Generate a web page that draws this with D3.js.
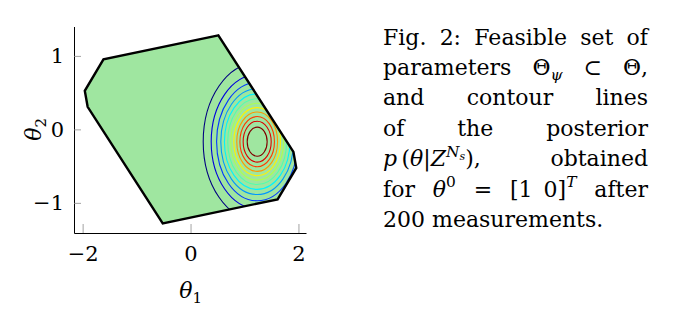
<!DOCTYPE html>
<html>
<head>
<meta charset="utf-8">
<script src="https://cdn.jsdelivr.net/npm/d3@7"></script>
<style>
    body { margin: 0; background: #fff; }
    svg { display: block; }
</style>
</head>
<body>
<svg id="fig" width="674" height="321"></svg>
<script>
// feasible set Theta_psi, polygon vertices (theta1, theta2)
const polyTheta1 = [0.515, -1.614, -1.96, -1.907, -0.515, 1.614, 1.96, 1.907];
const polyTheta2 = [1.28, 0.952, 0.525, 0.307, -1.28, -0.952, -0.525, -0.307];

// posterior contour lines, outermost first (ellipse half-axes in theta units)
const postCenter = [1.235, -0.167];
const contourRx = [1.0, 0.852, 0.752, 0.674, 0.607, 0.546, 0.489, 0.433, 0.378, 0.32, 0.26, 0.185];
const contourRy = [1.07, 0.91, 0.805, 0.72, 0.65, 0.584, 0.523, 0.463, 0.404, 0.342, 0.278, 0.198];
const contourColors = ["#000080", "#0000dc", "#003aff", "#0097ff", "#00f3ff", "#51ffad",
                       "#adff51", "#fff300", "#ff9700", "#ff3a00", "#dc0000", "#800000"];

const xTicks = [-2, 0, 2];
const yTicks = [-1, 0, 1];

// caption: lines -> words -> [text, kind]
const caption = [
    [[["Fig.", ""]], [["2:", ""]], [["Feasible", ""]], [["set", ""]], [["of", ""]]],
    [[["parameters", ""]], [["Θ", ""], ["ψ", "isub"]], [["⊂", ""]], [["Θ,", ""]]],
    [[["and", ""]], [["contour", ""]], [["lines", ""]]],
    [[["of", ""]], [["the", ""]], [["posterior", ""]]],
    [[["p", "i"], ["\u2009(", ""], ["θ", "i"], ["|", ""], ["Z", "i"], ["N", "isup"], ["s", "isupsub"], ["),", ""]],
     [["obtained", ""]]],
    [[["for", ""]], [["θ", "i"], ["0", "sup"]], [["=", ""]], [["[1\u20020]", ""], ["T", "isup"]], [["after", ""]]],
    [[["200", ""]], [["measurements.", ""]]]
];

const serif = '"DejaVu Serif", "Liberation Serif", serif';

const svg = d3.select('#fig');

const x = d3.scaleLinear().domain([-2.16, 2.14]).range([74, 306]);
const y = d3.scaleLinear().domain([-1.41, 1.40]).range([233, 26.5]);

const poly = polyTheta1.map((t, i) => [x(t), y(polyTheta2[i])]);
const polyPath = 'M' + poly.join('L') + 'Z';

svg.append('defs').append('clipPath')
    .attr('id', 'feasible')
    .append('path')
    .attr('d', polyPath);

// filled feasible set
svg.append('path')
    .attr('d', polyPath)
    .attr('fill', '#9fe6a0');

// contour lines of the posterior, clipped to the feasible set
svg.append('g')
    .attr('clip-path', 'url(#feasible)')
    .selectAll('ellipse')
    .data(contourRx)
    .join('ellipse')
    .attr('cx', x(postCenter[0]))
    .attr('cy', y(postCenter[1]))
    .attr('rx', d => x(postCenter[0] + d) - x(postCenter[0]))
    .attr('ry', (d, i) => y(postCenter[1]) - y(postCenter[1] + contourRy[i]))
    .attr('fill', 'none')
    .attr('stroke', (d, i) => contourColors[i])
    .attr('stroke-width', 1.1);

// outline
svg.append('path')
    .attr('d', polyPath)
    .attr('fill', 'none')
    .attr('stroke', '#000')
    .attr('stroke-width', 2.4);

// axes
const fmt = d3.format('d');
const xAxis = svg.append('g')
    .attr('transform', `translate(0,${y.range()[0]})`)
    .call(d3.axisBottom(x).tickValues(xTicks).tickFormat(fmt)
        .tickSizeInner(-9).tickSizeOuter(0).tickPadding(13));
const yAxis = svg.append('g')
    .attr('transform', `translate(${x.range()[0]},0)`)
    .call(d3.axisLeft(y).tickValues(yTicks).tickFormat(fmt)
        .tickSizeInner(-7).tickSizeOuter(0).tickPadding(10));

[xAxis, yAxis].forEach(g => {
    g.select('.domain').attr('stroke', '#000').attr('stroke-width', 1);
    g.selectAll('.tick line').attr('stroke', '#8c8c8c').attr('stroke-width', 0.8);
    g.selectAll('.tick text')
        .attr('fill', '#000')
        .style('font-family', serif)
        .style('font-size', '21px');
});

// axis labels
const xLab = svg.append('text')
    .attr('x', x(0))
    .attr('y', 298)
    .attr('text-anchor', 'middle')
    .style('font-family', serif)
    .style('font-size', '22px');
xLab.append('tspan').style('font-style', 'italic').text('θ');
xLab.append('tspan').attr('dy', 5).style('font-size', '15px').text('1');

const yLab = svg.append('text')
    .attr('transform', `translate(41,${y(0)}) rotate(-90)`)
    .attr('text-anchor', 'middle')
    .style('font-family', serif)
    .style('font-size', '22px');
yLab.append('tspan').style('font-style', 'italic').text('θ');
yLab.append('tspan').attr('dy', 5).style('font-size', '15px').text('2');

// caption, justified lines
const capX = 383, capW = 265, capBase = 44.5, capLead = 30.4, capSize = 22;
const kinds = {
    '':        {it: false, s: 1,   b: 0},
    'i':       {it: true,  s: 1,   b: 0},
    'isub':    {it: true,  s: 0.7, b: 0.25},
    'sup':     {it: false, s: 0.7, b: -0.42},
    'isup':    {it: true,  s: 0.7, b: -0.42},
    'isupsub': {it: true,  s: 0.5, b: -0.28}
};

const cap = svg.append('g')
    .style('font-family', serif)
    .style('font-size', capSize + 'px')
    .attr('fill', '#000');

caption.forEach((line, li) => {
    const base = capBase + li * capLead;
    const words = line.map(word => {
        const t = cap.append('text').attr('y', base);
        let prev = 0;
        word.forEach(([str, kind]) => {
            const k = kinds[kind];
            t.append('tspan')
                .attr('dy', (k.b - prev) * capSize)
                .style('font-size', (k.s * capSize) + 'px')
                .style('font-style', k.it ? 'italic' : 'normal')
                .text(str);
            prev = k.b;
        });
        return t;
    });
    const widths = words.map(t => t.node().getComputedTextLength());
    const last = li === caption.length - 1;
    const gap = last ? capSize * 0.32 : (capW - d3.sum(widths)) / (words.length - 1);
    let cx = capX;
    words.forEach((t, i) => {
        t.attr('x', cx);
        cx += widths[i] + gap;
    });
});
</script>
</body>
</html>
